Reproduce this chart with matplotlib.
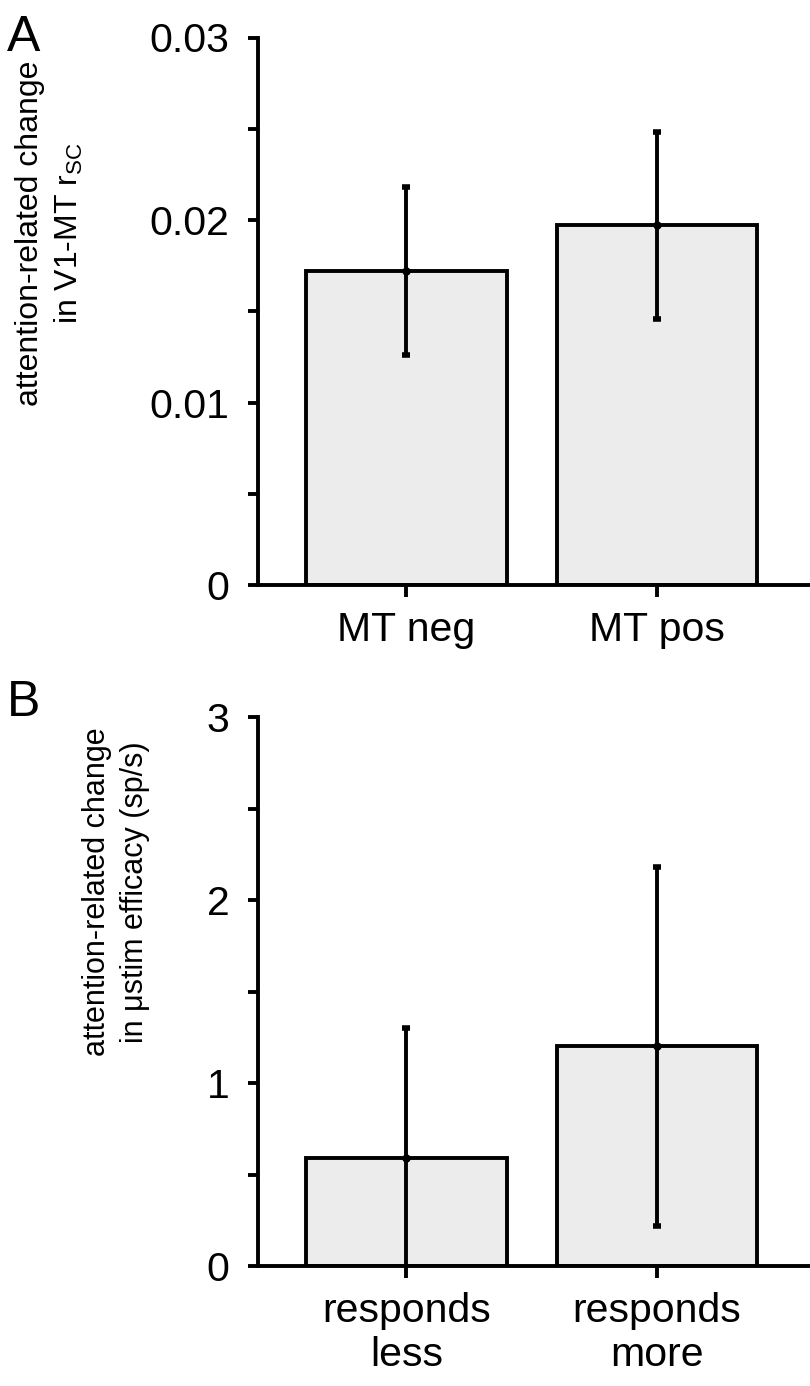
import matplotlib
matplotlib.use("Agg")
import matplotlib.pyplot as plt
import numpy as np

plt.rcParams['font.family'] = ['Liberation Sans', 'DejaVu Sans']
plt.rcParams['mathtext.fontset'] = 'custom'
plt.rcParams['mathtext.rm'] = 'Liberation Sans'
plt.rcParams['mathtext.it'] = 'Liberation Sans:italic'

# Panel A data
cats_a = ["MT neg", "MT pos"]
means_a = [0.0172, 0.0197]
errs_a = [0.0046, 0.0051]
yticks_a = [0, 0.01, 0.02, 0.03]
yticklabels_a = ["0", "0.01", "0.02", "0.03"]
yminor_a = [0.005, 0.015, 0.025]

# Panel B data
cats_b = ["responds\nless", "responds\nmore"]
means_b = [0.59, 1.20]
errs_b = [0.71, 0.98]
yticks_b = [0, 1, 2, 3]
yticklabels_b = ["0", "1", "2", "3"]
yminor_b = [0.5, 1.5, 2.5]

W, H = 810, 1386
fig = plt.figure(figsize=(W / 100, H / 100), dpi=100)

def px_axes(left, top, right, bottom):
    return fig.add_axes([left / W, 1 - bottom / H, (right - left) / W, (bottom - top) / H])

ax_a = px_axes(258, 37.5, 810, 585)
ax_b = px_axes(258, 717, 810, 1266)

LW = 2.8
bar_color = "#ececec"

def draw(ax, cats, means, errs, ymax, ticks, ticklabels, minor):
    x = np.arange(1, len(cats) + 1)
    ax.bar(x, means, width=0.8, color=bar_color, edgecolor="black", linewidth=LW, zorder=2)
    ax.errorbar(x, means, yerr=errs, fmt="o", color="black", markersize=5,
                elinewidth=LW, capsize=3, capthick=4, zorder=3)
    ax.set_xlim(0.408, 2.61)
    ax.set_ylim(0, ymax)
    for s in ["top", "right"]:
        ax.spines[s].set_visible(False)
    ax.spines["left"].set_linewidth(LW)
    ax.spines["bottom"].set_linewidth(LW)
    ax.set_xticks(x)
    ax.set_xticklabels(cats, fontsize=29.5, linespacing=1.22)
    ax.set_yticks(ticks)
    ax.set_yticklabels(ticklabels)
    ax.set_yticks(minor, minor=True)
    ax.tick_params(axis="y", which="both", direction="out", length=7.5, width=LW,
                   labelsize=29.5, pad=13)
    ax.tick_params(axis="x", which="both", direction="out", length=8.5, width=LW,
                   labelsize=29.5, pad=10)
    ax.patch.set_alpha(0)

draw(ax_a, cats_a, means_a, errs_a, 0.03, yticks_a, yticklabels_a, yminor_a)
draw(ax_b, cats_b, means_b, errs_b, 3, yticks_b, yticklabels_b, yminor_b)

# panel letters
fig.text(7 / W, 1 - 51 / H, "A", fontsize=36, ha="left", va="baseline")
fig.text(7 / W, 1 - 716 / H, "B", fontsize=36, ha="left", va="baseline")

# y labels
fig.text(50 / W, 1 - 233 / H,
         "attention-related change\nin V1-MT $\\mathrm{r_{SC}}$",
         rotation=90, fontsize=23, ha="center", va="center", multialignment="center",
         linespacing=1.35)
fig.text(116 / W, 1 - 892 / H,
         "attention-related change\nin \u03bcstim efficacy (sp/s)",
         rotation=90, fontsize=22, ha="center", va="center", multialignment="center",
         linespacing=1.35)

fig.savefig("out.png", dpi=100)
